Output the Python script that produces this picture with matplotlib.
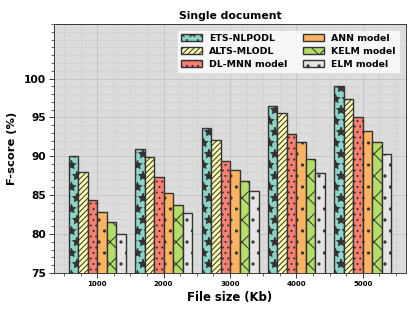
import matplotlib
matplotlib.use("Agg")
import matplotlib.pyplot as plt
import matplotlib.hatch as mhatch
import numpy as np
from matplotlib.ticker import AutoMinorLocator

categories = ["1000", "2000", "3000", "4000", "5000"]
models = ["ETS-NLPODL", "ALTS-MLODL", "DL-MNN model", "ANN model", "KELM model", "ELM model"]
ets = [90.0, 91.0, 93.6, 96.5, 99.0]
alts = [88.0, 89.9, 92.1, 95.6, 97.4]
dlmnn = [84.4, 87.3, 89.4, 92.9, 95.0]
ann = [82.9, 85.3, 88.2, 91.9, 93.3]
kelm = [81.6, 83.7, 86.8, 89.6, 91.8]
elm = [80.0, 82.7, 85.5, 87.9, 90.3]
series = [ets, alts, dlmnn, ann, kelm, elm]

colors = ["#8dd3c7", "#ffffb3", "#fb8072", "#fdb462", "#b3de69", "#e4e4e4"]
hatches = ["*", "////", "..", ".", "x", "."]

# slightly larger star hatch, as in the reference
try:
    class BigStars(mhatch.Stars):
        size = 0.38
    mhatch._hatch_types = [BigStars if t is mhatch.Stars else t for t in mhatch._hatch_types]
except Exception:
    pass

DPI = 200 / 3
plt.rcParams['hatch.linewidth'] = 1.1
fig = plt.figure(figsize=(416 / DPI, 313 / DPI), dpi=DPI)
ax = fig.add_axes([0.130, 0.128, 0.846, 0.795])
ax.set_facecolor("#dcdcdc")

x = np.arange(len(categories))
w = 0.143
for i, (vals, name) in enumerate(zip(series, models)):
    ax.bar(x + (i - 2.5) * w, vals, w, color=colors[i], hatch=hatches[i],
           edgecolor="#333333", linewidth=1.5, label=name, zorder=3)

ax.set_xlim(-0.65, 4.65)
ax.set_ylim(75, 107)
ax.set_xticks(x)
ax.set_xticklabels(categories, fontsize=7.5, fontweight="bold")
ax.set_yticks([75, 80, 85, 90, 95, 100])
ax.set_yticklabels(["75", "80", "85", "90", "95", "100"], fontsize=11.5, fontweight="bold")
ax.xaxis.set_minor_locator(AutoMinorLocator(4))
ax.yaxis.set_minor_locator(AutoMinorLocator(5))
ax.tick_params(which="major", length=5, width=1, color="#333333")
ax.tick_params(which="minor", length=3, width=0.8, color="#333333")
ax.grid(which="major", color="#c4c4c4", linestyle="-", linewidth=0.9, zorder=0)
ax.grid(which="minor", color="#c4c4c4", linestyle=":", linewidth=0.9, zorder=0)
ax.set_axisbelow(True)
for s in ax.spines.values():
    s.set_color("#333333")
    s.set_linewidth(1.0)

ax.set_title("Single document", fontsize=11.7, fontweight="bold", pad=6)
ax.set_xlabel("File size (Kb)", fontsize=12.6, fontweight="bold", labelpad=5)
ax.set_ylabel("F-score (%)", fontsize=12.4, fontweight="bold", labelpad=8)

leg = ax.legend(ncol=2, loc="upper right", prop={"size": 10.2, "weight": "bold"},
                frameon=True, fancybox=True, framealpha=0.8, edgecolor="#dddddd",
                handlelength=2.2, handleheight=0.8, columnspacing=1.6,
                labelspacing=0.42, borderpad=0.4, bbox_to_anchor=(0.995, 0.995))
leg.get_frame().set_facecolor("white")

fig.savefig("out.png", dpi=DPI)
